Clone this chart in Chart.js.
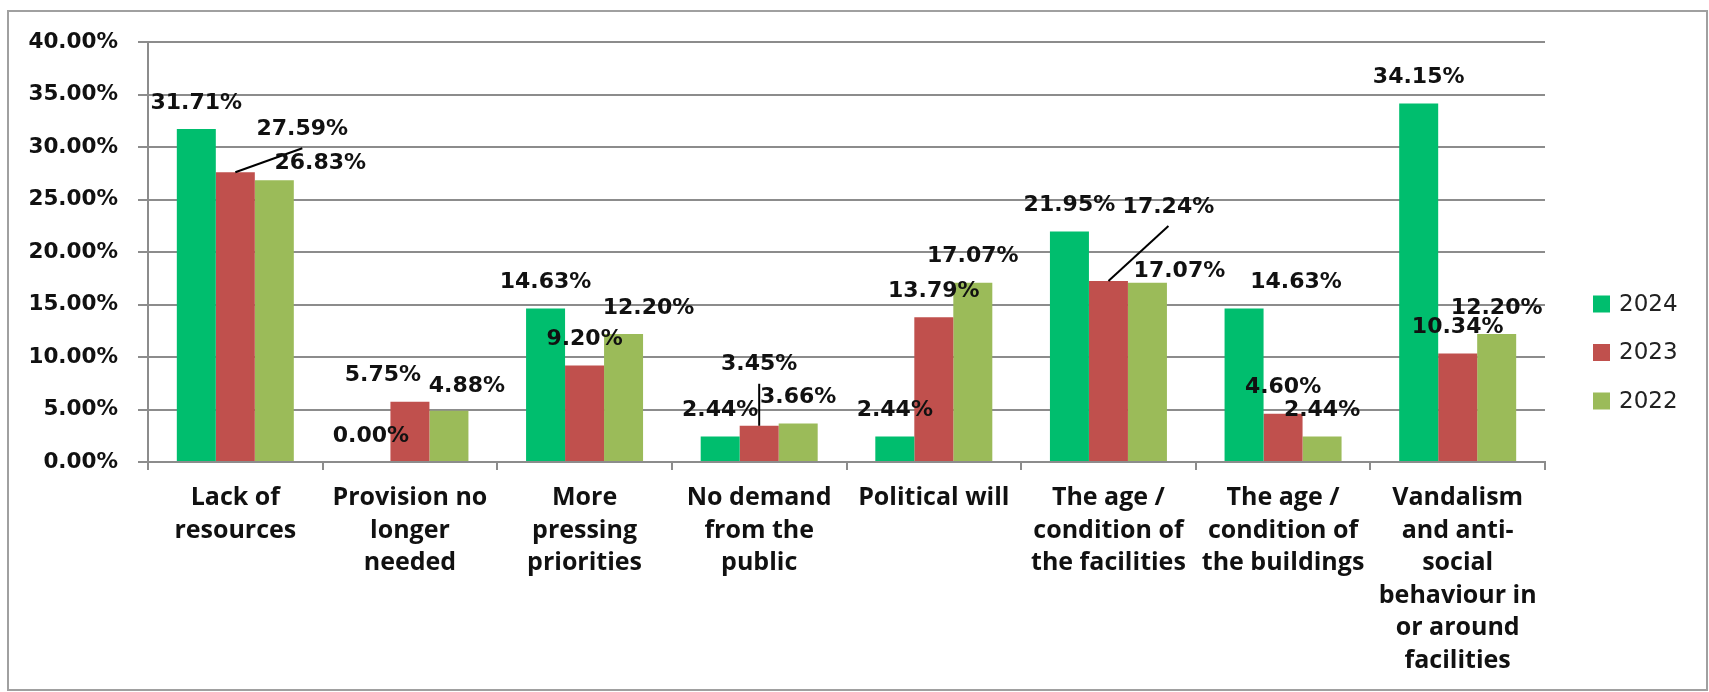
<!DOCTYPE html>
<html>
<head>
<meta charset="utf-8">
<script src="https://cdn.jsdelivr.net/npm/chart.js@4.4.0/dist/chart.umd.min.js"></script>
<style>
  html, body { margin: 0; padding: 0; background: #fff; }
  #wrap { position: relative; width: 1709px; height: 692px; }
</style>
</head>
<body>
<div id="wrap"><canvas id="chart"></canvas></div>
<script>
// Categories (multi-line, as on the axis)
const categories = [
  ['Lack of', 'resources'],
  ['Provision no', 'longer', 'needed'],
  ['More', 'pressing', 'priorities'],
  ['No demand', 'from the', 'public'],
  ['Political will'],
  ['The age /', 'condition of', 'the facilities'],
  ['The age /', 'condition of', 'the buildings'],
  ['Vandalism', 'and anti-', 'social', 'behaviour in', 'or around', 'facilities']
]

const years = ['2024', '2023', '2022']
const values2024 = [31.71, 0.00, 14.63, 2.44, 2.44, 21.95, 14.63, 34.15]
const values2023 = [27.59, 5.75, 9.20, 3.45, 13.79, 17.24, 4.60, 10.34]
const values2022 = [26.83, 4.88, 12.20, 3.66, 17.07, 17.07, 2.44, 12.20]

const yTicks = [0, 5, 10, 15, 20, 25, 30, 35, 40]

// Label nudges (dx, dy in px) for labels that were moved by hand in the original
const labelShift2024 = [[0, 0], [0, 0], [0, 0], [0, 0], [0, 0], [0, 0], [52, 0], [0, 0]]
const labelShift2023 = [[67, -17], [-27, 0], [0, 0], [0, -35], [0, 0], [60, -48], [0, 0], [0, 0]]
const labelShift2022 = [[46, 9], [18, 2], [25, 0], [0, 0], [0, 0], [32, 15], [0, 0], [0, 0]]
const leader2023 = [true, false, false, true, false, true, false, false]

const colors = ['#00BE6E', '#C0504D', '#9BBB59']

const pct = v => v.toFixed(2) + '%'

// Outer frame
const framePlugin = {
  id: 'frame',
  beforeDraw(chart) {
    const ctx = chart.ctx
    ctx.save()
    ctx.fillStyle = '#fff'
    ctx.fillRect(0, 0, chart.width, chart.height)
    ctx.strokeStyle = '#a0a0a0'
    ctx.lineWidth = 2
    ctx.strokeRect(8, 11, chart.width - 10, chart.height - 13)
    ctx.restore()
  }
}

// Value labels above bars, with leader lines where the label was dragged away
const valueLabels = {
  id: 'valueLabels',
  afterDatasetsDraw(chart) {
    const ctx = chart.ctx
    const shifts = [labelShift2024, labelShift2023, labelShift2022]
    ctx.save()
    ctx.font = 'bold 22px "DejaVu Sans"'
    ctx.textAlign = 'center'
    ctx.textBaseline = 'middle'
    chart.data.datasets.forEach((ds, di) => {
      const meta = chart.getDatasetMeta(di)
      meta.data.forEach((bar, i) => {
        const [dx, dy] = shifts[di][i]
        const cx = bar.x + dx
        const cy = bar.y - 26 + dy
        if (di === 1 && leader2023[i]) {
          ctx.strokeStyle = '#000'
          ctx.lineWidth = 2
          ctx.beginPath()
          ctx.moveTo(bar.x, bar.y)
          ctx.lineTo(cx, cy + 19)
          ctx.stroke()
        }
        ctx.fillStyle = '#111'
        ctx.fillText(pct(ds.data[i]), cx, cy)
      })
    })
    ctx.restore()
  }
}

// Legend on the right
const sideLegend = {
  id: 'sideLegend',
  afterDraw(chart) {
    const ctx = chart.ctx
    ctx.save()
    ctx.font = '23px "DejaVu Sans"'
    ctx.textBaseline = 'middle'
    chart.data.datasets.forEach((ds, i) => {
      const y = 304 + i * 48.5
      ctx.fillStyle = ds.backgroundColor
      ctx.fillRect(1593, y - 8.5, 17, 17)
      ctx.fillStyle = '#222'
      ctx.fillText(ds.label, 1619, y + 1)
    })
    ctx.restore()
  }
}

new Chart(document.getElementById('chart'), {
  type: 'bar',
  data: {
    labels: categories,
    datasets: [
      { label: years[0], data: values2024, backgroundColor: colors[0] },
      { label: years[1], data: values2023, backgroundColor: colors[1] },
      { label: years[2], data: values2022, backgroundColor: colors[2] }
    ]
  },
  options: {
    responsive: true,
    maintainAspectRatio: false,
    animation: false,
    categoryPercentage: 0.67,
    barPercentage: 1.0,
    layout: { padding: { left: 8, top: 42, right: 164, bottom: 0 } },
    plugins: {
      legend: { display: false },
      tooltip: { enabled: false }
    },
    scales: {
      x: {
        afterFit(s) { s.height = 230 },
        grid: {
          offset: true,
          drawOnChartArea: false,
          drawTicks: true,
          tickLength: 8,
          color: '#8c8c8c',
          lineWidth: 2
        },
        border: { display: true, color: '#8c8c8c', width: 2 },
        ticks: {
          color: '#111',
          padding: 12,
          maxRotation: 0,
          autoSkip: false,
          font: { family: '"Open Sans"', weight: 'bold', size: 25, lineHeight: 1.3 }
        }
      },
      y: {
        min: 0,
        max: 40,
        afterFit(s) { s.width = 140 },
        afterBuildTicks(s) { s.ticks = yTicks.map(v => ({ value: v })) },
        grid: {
          color: '#8c8c8c',
          lineWidth: 2,
          drawTicks: true,
          tickLength: 10
        },
        border: { display: true, color: '#8c8c8c', width: 2 },
        ticks: {
          color: '#111',
          padding: 20,
          font: { family: '"DejaVu Sans"', weight: 'bold', size: 21.5 },
          callback: v => pct(v)
        }
      }
    }
  },
  plugins: [framePlugin, valueLabels, sideLegend]
})
</script>
</body>
</html>
